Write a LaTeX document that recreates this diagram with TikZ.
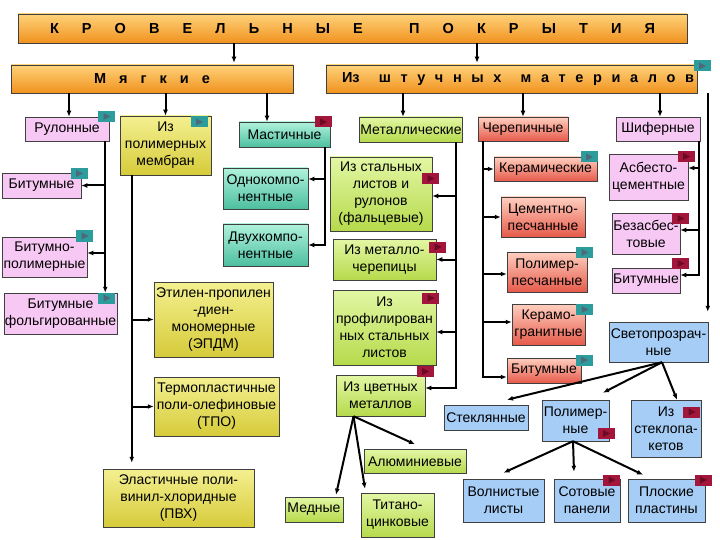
\documentclass[tikz,border=0pt]{standalone}
\usepackage{fontspec}
\setmainfont{Liberation Sans}
\usepackage{xcolor}
\usetikzlibrary{arrows.meta}
\definecolor{orTop}{HTML}{FFD27A}
\definecolor{orBot}{HTML}{F0921E}
\definecolor{pinkFill}{HTML}{F8C8F4}
\definecolor{yeTop}{HTML}{F4F090}
\definecolor{yeBot}{HTML}{D6CB3A}
\definecolor{tlTop}{HTML}{B0F2DC}
\definecolor{tlBot}{HTML}{4DBF9F}
\definecolor{grTop}{HTML}{E2F7A4}
\definecolor{grBot}{HTML}{B6DA4C}
\definecolor{rdTop}{HTML}{FFCFC0}
\definecolor{rdBot}{HTML}{E65A4A}
\definecolor{blFill}{HTML}{A6CDF6}
\definecolor{btnTeal}{HTML}{2C9C9C}
\definecolor{btnTealDark}{HTML}{4E6A7A}
\definecolor{btnRed}{HTML}{A3163C}
\definecolor{btnRedDark}{HTML}{6C0A24}
\begin{document}
\begin{tikzpicture}[x=1pt,y=-1pt,
  box/.style={draw=black!75,line width=0.5pt,align=center,inner sep=1pt,
    font=\fontsize{14}{17}\selectfont},
  orangebox/.style={box,top color=orTop,bottom color=orBot,
    font=\fontsize{14.5}{16}\selectfont\bfseries},
  pinkbox/.style={box,fill=pinkFill},
  yellowbox/.style={box,top color=yeTop,bottom color=yeBot},
  tealbox/.style={box,top color=tlTop,bottom color=tlBot},
  greenbox/.style={box,top color=grTop,bottom color=grBot},
  redbox/.style={box,top color=rdTop,bottom color=rdBot},
  bluebox/.style={box,fill=blFill},
  btn/.style={minimum width=17pt,minimum height=11pt,inner sep=0pt},
  tealbtn/.style={btn,fill=btnTeal,path picture={\fill[btnTealDark]
    ([xshift=-3pt,yshift=3.5pt]path picture bounding box.center)
    -- ++(7pt,-3.5pt) -- ++(-7pt,-3.5pt) -- cycle;}},
  redbtn/.style={btn,fill=btnRed,path picture={\fill[btnRedDark]
    ([xshift=-3pt,yshift=3.5pt]path picture bounding box.center)
    -- ++(7pt,-3.5pt) -- ++(-7pt,-3.5pt) -- cycle;}},
  arrow/.style={-{Latex[length=6pt,width=5pt]},line width=2pt}
]
\fill[white] (0,0) rectangle (720,540);
\useasboundingbox (0,0) rectangle (720,540);

\node[orangebox,minimum width=669,minimum height=29] (title) at (352.5,28.5)
  {\makebox[605pt]{К\hfill Р\hfill О\hfill В\hfill Е\hfill Л\hfill Ь\hfill Н\hfill Ы\hfill Е\hfill\hfill
   П\hfill О\hfill К\hfill Р\hfill Ы\hfill Т\hfill И\hfill Я}};
\node[orangebox,minimum width=282,minimum height=28] (myag) at (152,79)
  {\makebox[116pt]{М\hfill я\hfill г\hfill к\hfill и\hfill е}};
\node[orangebox,minimum width=371,minimum height=28] (shtuch) at (511.5,79)
  {\hspace*{13pt}\makebox[352pt]{Из\hfill\hfill ш\hfill т\hfill у\hfill ч\hfill н\hfill ы\hfill х\hfill\hfill
   м\hfill а\hfill т\hfill е\hfill р\hfill и\hfill а\hfill л\hfill о\hfill в}};

\node[pinkbox,minimum width=84,minimum height=24] (rulon) at (67,129) {Рулонные};
\node[yellowbox,minimum width=91,minimum height=59] (polym) at (165.5,145.5) {Из\\полимерных\\мембран};
\node[tealbox,minimum width=91,minimum height=25] (mast) at (284.5,134.5) {Мастичные};
\node[greenbox,minimum width=102,minimum height=25] (metal) at (411,129.5) {Металлические};
\node[redbox,minimum width=90,minimum height=24] (cherep) at (523,129) {Черепичные};
\node[pinkbox,minimum width=84,minimum height=24] (shifer) at (658,129) {Шиферные};

\node[pinkbox,minimum width=79,minimum height=25] (bitum1) at (41.5,185.5) {Битумные};
\node[pinkbox,minimum width=85,minimum height=40] (bitpol) at (44.5,257) {Битумно-\\полимерные};
\node[pinkbox,minimum width=113,minimum height=41] (bitfol) at (60.5,313.5) {Битумные\\фольгированные};

\node[yellowbox,minimum width=119,minimum height=75] (etilen) at (213.5,319.5)
  {Этилен-пропилен\\-диен-\\мономерные\\(ЭПДМ)};
\node[yellowbox,minimum width=125,minimum height=59] (termo) at (216.5,406.5)
  {Термопластичные\\поли-олефиновые\\(ТПО)};
\node[yellowbox,minimum width=151,minimum height=58] (elast) at (178.5,498)
  {Эластичные поли-\\винил-хлоридные\\(ПВХ)};

\node[tealbox,minimum width=85,minimum height=41] (odno) at (265.5,188.5) {Однокомпо-\\нентные};
\node[tealbox,minimum width=85,minimum height=42] (dvuh) at (265.5,245) {Двухкомпо-\\нентные};

\node[greenbox,minimum width=102,minimum height=74] (stal) at (381,194)
  {Из стальных\\листов и\\рулонов\\(фальцевые)};
\node[greenbox,minimum width=103,minimum height=41] (metcher) at (384.5,259.5) {Из металло-\\черепицы};
\node[greenbox,minimum width=103,minimum height=75] (profil) at (384.5,327.5)
  {Из\\профилирован\\ных стальных\\листов};
\node[greenbox,minimum width=89,minimum height=41] (cvet) at (380.5,395.5) {Из цветных\\металлов};
\node[greenbox,minimum width=102,minimum height=24] (alum) at (415,461.5) {Алюминиевые};
\node[greenbox,minimum width=58,minimum height=25] (medn) at (314,509.5) {Медные};
\node[greenbox,minimum width=73,minimum height=44] (titan) at (397.5,515) {Титано-\\цинковые};

\node[redbox,minimum width=103,minimum height=24] (keram) at (545.5,169) {Керамические};
\node[redbox,minimum width=84,minimum height=40] (cement) at (543,217) {Цементно-\\песчанные};
\node[redbox,minimum width=80,minimum height=40] (polpes) at (547,272) {Полимер-\\песчанные};
\node[redbox,minimum width=73,minimum height=41] (kergran) at (548.5,324.5) {Керамо-\\гранитные};
\node[redbox,minimum width=74,minimum height=25] (bitum3) at (544,370.5) {Битумные};

\node[pinkbox,minimum width=79,minimum height=46] (asbest) at (648.5,177) {Асбесто-\\цементные};
\node[pinkbox,minimum width=68,minimum height=41] (bezasb) at (646,233.5) {Безасбес-\\товые};
\node[pinkbox,minimum width=68,minimum height=25] (bitum2) at (646,280.5) {Битумные};

\node[bluebox,minimum width=99,minimum height=40] (svet) at (658.5,342) {Светопрозрач-\\ные};
\node[bluebox,minimum width=84,minimum height=25] (steklo) at (486,417.5) {Стеклянные};
\node[bluebox,minimum width=67,minimum height=41] (polim2) at (575.5,420.5) {Полимер-\\ные};
\node[bluebox,minimum width=70,minimum height=57] (stpak) at (666,428.5) {Из\\стеклопа-\\кетов};
\node[bluebox,minimum width=81,minimum height=43] (voln) at (503.5,500.5) {Волнистые\\листы};
\node[bluebox,minimum width=66,minimum height=43] (sotov) at (587,500.5) {Сотовые\\панели};
\node[bluebox,minimum width=77,minimum height=43] (plosk) at (666.5,500.5) {Плоские\\пластины};

\draw[arrow] ([xshift=82pt]myag.north |- title.south) -- ([xshift=82pt,yshift=2pt]myag.north);
\draw[arrow] ([xshift=-34.5pt]shtuch.north |- title.south) -- ([xshift=-34.5pt,yshift=2pt]shtuch.north);

\draw[arrow] ([xshift=2pt]rulon.north |- myag.south) -- ([xshift=2pt]rulon.north);
\draw[arrow] (polym.north |- myag.south) -- (polym.north);
\draw[arrow] ([xshift=-17.5pt]mast.north |- myag.south) -- ([xshift=-17.5pt]mast.north);
\draw[arrow] ([xshift=-8pt]metal.north |- shtuch.south) -- ([xshift=-8pt]metal.north);
\draw[arrow] (cherep.north |- shtuch.south) -- (cherep.north);
\draw[arrow] ([xshift=2pt]shifer.north |- shtuch.south) -- ([xshift=2pt]shifer.north);
\draw[arrow] ([xshift=-0.5pt]svet.north east |- shtuch.south) -- ([xshift=-0.5pt,yshift=10pt]svet.north east);

\coordinate (rulbus) at ([xshift=-4pt]rulon.south east);
\draw[arrow] (rulbus) -- (rulbus |- bitfol.north);
\draw[arrow] (rulbus |- bitum1.east) -- (bitum1.east);
\draw[arrow] ([yshift=4pt]rulbus |- bitpol.east) -- ([yshift=4pt]bitpol.east);

\coordinate (polbus) at ([xshift=12pt]polym.south west);
\draw[arrow,shorten >=6pt] (polbus) -- (polbus |- elast.north);
\draw[arrow] (polbus |- etilen.west) -- (etilen.west);
\draw[arrow] (polbus |- termo.west) -- (termo.west);

\coordinate (mastbus) at ([xshift=-5pt]mast.south east);
\draw[arrow] (mastbus) |- (dvuh.east);
\draw[arrow] ([yshift=9.5pt]mastbus |- odno.east) -- ([yshift=9.5pt]odno.east);

\coordinate (metbus) at ([xshift=-7pt]metal.south east);
\draw[arrow] (metbus) |- ([yshift=7.5pt]cvet.east);
\draw[arrow] ([yshift=-2pt]metbus |- stal.east) -- ([yshift=-2pt]stal.east);
\draw[arrow] (metbus |- metcher.east) -- (metcher.east);
\draw[arrow] ([yshift=-4.5pt]metbus |- profil.east) -- ([yshift=-4.5pt]profil.east);

\coordinate (chebus) at ([xshift=5pt]cherep.south west);
\draw[arrow] (chebus) |- ([yshift=-6.5pt]bitum3.west);
\draw[arrow] (chebus |- keram.west) -- (keram.west);
\draw[arrow] (chebus |- cement.west) -- (cement.west);
\draw[arrow] ([yshift=-2pt]chebus |- polpes.west) -- ([yshift=-2pt]polpes.west);
\draw[arrow] ([yshift=2.5pt]chebus |- kergran.west) -- ([yshift=2.5pt]kergran.west);

\coordinate (shibus) at ([xshift=-1pt]shifer.south east);
\draw[arrow] (shibus) |- ([yshift=5.5pt]bitum2.east);
\draw[arrow] ([yshift=9pt]shibus |- asbest.east) -- ([yshift=9pt]asbest.east);
\draw[arrow] ([yshift=3.5pt]shibus |- bezasb.east) -- ([yshift=3.5pt]bezasb.east);

\coordinate (svetfan) at ([xshift=3.5pt]svet.south);
\draw[arrow] (svetfan) -- ([xshift=21pt,yshift=5pt]steklo.north);
\draw[arrow] (svetfan) -- ([xshift=27.5pt,yshift=7pt]polim2.north);
\draw[arrow] (svetfan) -- ([xshift=11pt]stpak.north);

\coordinate (cvetfan) at ([xshift=-27pt]cvet.south);
\draw[arrow] (cvetfan) -- ([yshift=5pt]alum.north);
\draw[arrow] (cvetfan) -- ([xshift=22pt,yshift=2pt]medn.north);
\draw[arrow] (cvetfan) -- ([xshift=-32.5pt,yshift=4pt]titan.north);

\coordinate (polfan) at ([xshift=-2.5pt]polim2.south);
\draw[arrow] (polfan) -- ([yshift=6pt]voln.north);
\draw[arrow] (polfan) -- ([xshift=-13pt,yshift=7pt]sotov.north);
\draw[arrow] (polfan) -- ([xshift=-23.5pt,yshift=4pt]plosk.north);

\node[tealbtn] (shtuchbtn) at (702,66) {};
\node[tealbtn] (rulonbtn) at (106.5,116.5) {};
\node[tealbtn] (polymbtn) at (199,122) {};
\node[redbtn] (mastbtn) at (323,122) {};
\node[tealbtn] (bitum1btn) at (79,173.5) {};
\node[tealbtn] (bitpolbtn) at (84.5,236) {};
\node[tealbtn] (bitfolbtn) at (106.5,298) {};
\node[redbtn] (stalbtn) at (430.5,178.5) {};
\node[redbtn] (metcherbtn) at (437.5,247) {};
\node[redbtn] (profilbtn) at (430.5,298) {};
\node[redbtn] (cvetbtn) at (425,371.5) {};
\node[tealbtn] (kerambtn) at (589,157) {};
\node[tealbtn] (polpesbtn) at (584.5,252.5) {};
\node[tealbtn] (kergranbtn) at (584.5,309.5) {};
\node[tealbtn] (bitum3btn) at (584,360) {};
\node[redbtn] (asbestbtn) at (686,156.5) {};
\node[redbtn] (bezasbbtn) at (680.5,218.5) {};
\node[redbtn] (bitum2btn) at (680.5,263.5) {};
\node[redbtn] (polim2btn) at (606,433.5) {};
\node[redbtn] (stpakbtn) at (691.5,412) {};
\node[redbtn] (sotovbtn) at (611.5,480) {};
\node[redbtn] (ploskbtn) at (703,480) {};
\end{tikzpicture}
\end{document}
